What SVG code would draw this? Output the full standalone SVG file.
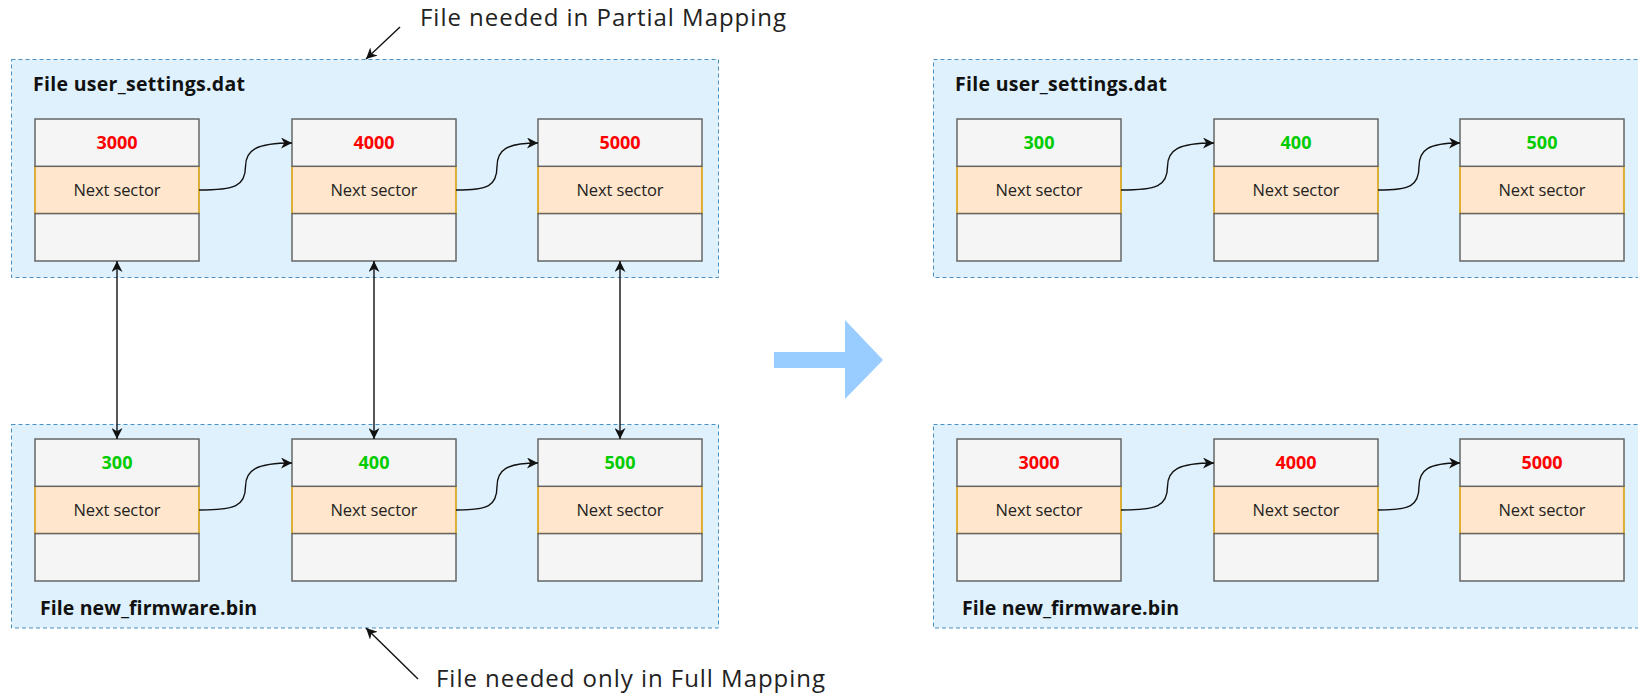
<svg xmlns="http://www.w3.org/2000/svg" width="1638" height="695" viewBox="0 0 1638 695">
  <style>
    .panel { fill: #def1fd; stroke: #4a90c2; stroke-width: 1; stroke-dasharray: 4 3; }
    .cell { fill: #f5f5f5; stroke: #666666; stroke-width: 1.5; }
    .ptr { fill: #ffe6cc; stroke: #d79b00; stroke-width: 1.5; }
    .title { font-family: "Open Sans", "Liberation Sans", sans-serif; font-weight: bold; font-size: 19.5px; fill: #111111; }
    .val { font-family: "Open Sans", "Liberation Sans", sans-serif; font-weight: bold; font-size: 18px; text-anchor: middle; }
    .red { fill: #ff0000; }
    .green { fill: #00cc00; }
    .lbl { font-family: "Open Sans", "Liberation Sans", sans-serif; font-size: 16.5px; text-anchor: middle; fill: #222222; }
    .note { font-family: "Open Sans", "Liberation Sans", sans-serif; font-size: 24px; fill: #222222; }
    .link { fill: none; stroke: #111111; stroke-width: 1.4; }
  </style>
  <defs>
    <marker id="head" viewBox="0 0 10 10" refX="10" refY="5" markerWidth="11" markerHeight="11" markerUnits="userSpaceOnUse" orient="auto-start-reverse">
      <path d="M0,0 L10,5 L0,10 L3,5 Z" fill="#111111"/>
    </marker>
    <!-- one sector: value row, pointer row, empty row -->
    <g id="sector">
      <rect class="ptr" x="0" y="47.3" width="164" height="47.3"/>
      <rect class="cell" x="0" y="0" width="164" height="47.3"/>
      <rect class="cell" x="0" y="94.6" width="164" height="47.4"/>
      <text class="lbl" x="82" y="76.5" textLength="87">Next sector</text>
    </g>
  </defs>

  <!-- file containers -->
  <g id="left-settings">
    <rect class="panel" x="11.5" y="59.5" width="707" height="218"/>
    <text class="title" x="33" y="91" textLength="212">File user_settings.dat</text>
  </g>
  <g id="left-firmware">
    <rect class="panel" x="11.5" y="424.5" width="707" height="203.5"/>
    <text class="title" x="40" y="615" textLength="217">File new_firmware.bin</text>
  </g>
  <g id="right-settings">
    <rect class="panel" x="933.5" y="59.5" width="720" height="218"/>
    <text class="title" x="955" y="91" textLength="212">File user_settings.dat</text>
  </g>
  <g id="right-firmware">
    <rect class="panel" x="933.5" y="424.5" width="720" height="203.5"/>
    <text class="title" x="962" y="615" textLength="217">File new_firmware.bin</text>
  </g>

  <!-- sectors, left side -->
  <g id="l-s1"><use href="#sector" x="35" y="119"/><text class="val red" x="117" y="149">3000</text></g>
  <g id="l-s2"><use href="#sector" x="292" y="119"/><text class="val red" x="374" y="149">4000</text></g>
  <g id="l-s3"><use href="#sector" x="538" y="119"/><text class="val red" x="620" y="149">5000</text></g>
  <g id="l-f1"><use href="#sector" x="35" y="439"/><text class="val green" x="117" y="469">300</text></g>
  <g id="l-f2"><use href="#sector" x="292" y="439"/><text class="val green" x="374" y="469">400</text></g>
  <g id="l-f3"><use href="#sector" x="538" y="439"/><text class="val green" x="620" y="469">500</text></g>

  <!-- sectors, right side -->
  <g id="r-s1"><use href="#sector" x="957" y="119"/><text class="val green" x="1039" y="149">300</text></g>
  <g id="r-s2"><use href="#sector" x="1214" y="119"/><text class="val green" x="1296" y="149">400</text></g>
  <g id="r-s3"><use href="#sector" x="1460" y="119"/><text class="val green" x="1542" y="149">500</text></g>
  <g id="r-f1"><use href="#sector" x="957" y="439"/><text class="val red" x="1039" y="469">3000</text></g>
  <g id="r-f2"><use href="#sector" x="1214" y="439"/><text class="val red" x="1296" y="469">4000</text></g>
  <g id="r-f3"><use href="#sector" x="1460" y="439"/><text class="val red" x="1542" y="469">5000</text></g>

  <!-- transition arrow -->
  <g id="transition">
    <polygon points="774,352 845,352 845,320 883,360 845,399 845,368 774,368" fill="#99ccff"/>
  </g>

  <!-- annotations -->
  <g id="note-partial">
    <text class="note" x="420" y="26" textLength="366">File needed in Partial Mapping</text>
  </g>
  <g id="note-full">
    <text class="note" x="436" y="687" textLength="389">File needed only in Full Mapping</text>
  </g>

  <g id="connectors">
    <!-- next-sector chains -->
    <path class="link" marker-end="url(#head)" d="M199,190 C235,190 245.5,186 245.5,166.5 C245.5,150 256,143 292,143"/>
    <path class="link" marker-end="url(#head)" d="M456,190 C488,190 497,186 497,166.5 C497,150 506,143 538,143"/>
    <path class="link" marker-end="url(#head)" d="M199,510 C235,510 245.5,506 245.5,486.5 C245.5,470 256,463 292,463"/>
    <path class="link" marker-end="url(#head)" d="M456,510 C488,510 497,506 497,486.5 C497,470 506,463 538,463"/>
    <path class="link" marker-end="url(#head)" d="M1121,190 C1157,190 1167.5,186 1167.5,166.5 C1167.5,150 1178,143 1214,143"/>
    <path class="link" marker-end="url(#head)" d="M1378,190 C1410,190 1419,186 1419,166.5 C1419,150 1428,143 1460,143"/>
    <path class="link" marker-end="url(#head)" d="M1121,510 C1157,510 1167.5,506 1167.5,486.5 C1167.5,470 1178,463 1214,463"/>
    <path class="link" marker-end="url(#head)" d="M1378,510 C1410,510 1419,506 1419,486.5 C1419,470 1428,463 1460,463"/>
    <!-- sector correspondences -->
    <path class="link" marker-start="url(#head)" marker-end="url(#head)" d="M117,261 L117,439"/>
    <path class="link" marker-start="url(#head)" marker-end="url(#head)" d="M374,261 L374,439"/>
    <path class="link" marker-start="url(#head)" marker-end="url(#head)" d="M620,261 L620,439"/>
    <!-- annotation pointers -->
    <path class="link" marker-end="url(#head)" d="M400,27 L366,59"/>
    <path class="link" marker-end="url(#head)" d="M418,679 L366,628"/>
  </g>
</svg>
